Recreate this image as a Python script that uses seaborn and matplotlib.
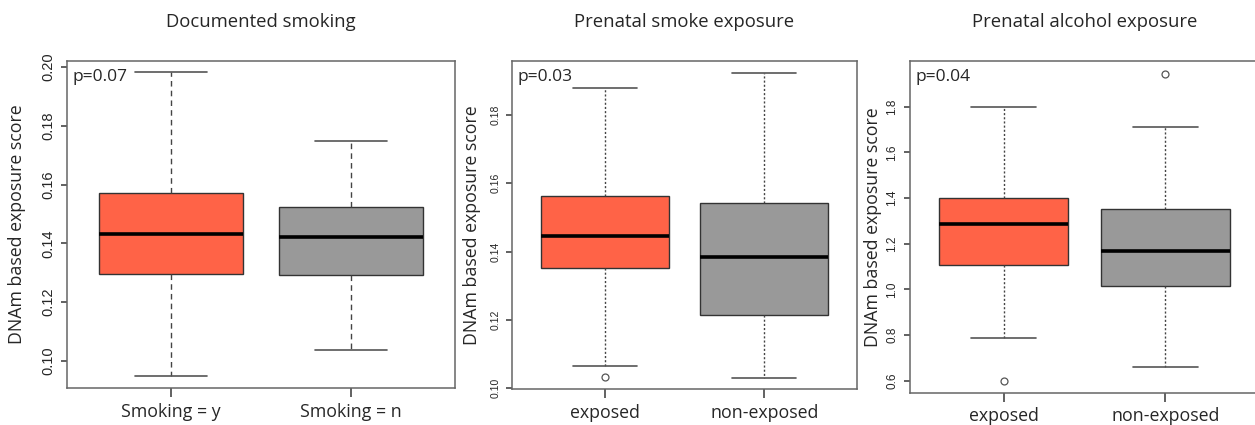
import matplotlib
matplotlib.use("Agg")
import matplotlib.pyplot as plt
import seaborn as sns

# ---- data (box summary: whisker low, Q1, median, Q3, whisker high, outliers)
smoke_groups = ["Smoking = y", "Smoking = n"]
smoke_lo = [0.0948, 0.1038]
smoke_q1 = [0.1297, 0.1293]
smoke_med = [0.1433, 0.1423]
smoke_q3 = [0.1572, 0.1523]
smoke_hi = [0.1982, 0.1750]
smoke_out = [[], []]

pren_groups = ["exposed", "non-exposed"]
pren_lo = [0.1065, 0.1031]
pren_q1 = [0.1353, 0.1216]
pren_med = [0.1446, 0.1385]
pren_q3 = [0.1563, 0.1543]
pren_hi = [0.1880, 0.1924]
pren_out = [[0.1034], []]

alc_groups = ["exposed", "non-exposed"]
alc_lo = [0.788, 0.660]
alc_q1 = [1.108, 1.013]
alc_med = [1.2875, 1.167]
alc_q3 = [1.400, 1.352]
alc_hi = [1.800, 1.712]
alc_out = [[0.600], [1.943]]

titles = ["Documented smoking", "Prenatal smoke exposure", "Prenatal alcohol exposure"]
pvals = ["p=0.07", "p=0.03", "p=0.04"]

sns.set_style("white")
plt.rcParams["font.family"] = ["Open Sans", "DejaVu Sans"]
box_colors = ["#FF6347", "#999999"]

fig = plt.figure(figsize=(12.55, 4.25), dpi=100)


def stats(lo, q1, med, q3, hi, out, names):
    return [dict(whislo=lo[i], q1=q1[i], med=med[i], q3=q3[i], whishi=hi[i],
                 fliers=out[i], label=names[i]) for i in range(len(names))]


def panel(rect, st, ylim, yticks, fmt, tick_fs, wls, title, pval, ylab_x, title_y):
    ax = fig.add_axes(rect)
    bp = ax.bxp(st, positions=[1, 2], widths=0.8, patch_artist=True,
                boxprops=dict(edgecolor="#333333", linewidth=1.0),
                medianprops=dict(color="black", linewidth=2.6),
                whiskerprops=dict(color="#444444", linewidth=1.0, linestyle=wls),
                capprops=dict(color="#555555", linewidth=1.2),
                flierprops=dict(marker="o", markerfacecolor="none",
                                markeredgecolor="#555555", markersize=5, markeredgewidth=0.9),
                capwidths=0.4)
    for patch, c in zip(bp["boxes"], box_colors):
        patch.set_facecolor(c)
    ax.set_xlim(0.42, 2.58)
    ax.set_ylim(*ylim)
    ax.set_yticks(yticks)
    ax.set_yticklabels([fmt % v for v in yticks], rotation=90, va="center",
                       fontsize=tick_fs, family="Liberation Sans")
    ax.set_xticks([1, 2])
    ax.set_xticklabels([s["label"] for s in st], fontsize=12.8)
    ax.tick_params(axis="y", left=True, length=4.5, width=1.3, color="#555555", pad=4)
    ax.tick_params(axis="x", bottom=True, length=6.5, width=1.3, color="#555555", pad=4)
    for sp in ax.spines.values():
        sp.set_color("#666666")
        sp.set_linewidth(1.1)
    ax.text(0.5, title_y, title, transform=ax.transAxes, ha="center", va="center", fontsize=13.3)
    ax.text(0.015, 0.951, pval, transform=ax.transAxes, ha="left", va="center", fontsize=12.5)
    ax.text(ylab_x, 0.5, "DNAm based exposure score", transform=ax.transAxes, rotation=90,
            ha="center", va="center", fontsize=12.8)
    return ax


panel([67 / 1255, 37 / 425, 388 / 1255, 327 / 425],
      stats(smoke_lo, smoke_q1, smoke_med, smoke_q3, smoke_hi, smoke_out, smoke_groups),
      (0.0907, 0.2021), [0.10, 0.12, 0.14, 0.16, 0.18, 0.20], "%.2f", 10.5, (0, (4, 3)),
      titles[0], pvals[0], -0.129, 1.119)

panel([512 / 1255, 36 / 425, 345 / 1255, 328 / 425],
      stats(pren_lo, pren_q1, pren_med, pren_q3, pren_hi, pren_out, pren_groups),
      (0.0998, 0.1958), [0.10, 0.12, 0.14, 0.16, 0.18], "%.2f", 7.5, (0, (1.5, 1.5)),
      titles[1], pvals[1], -0.116, 1.119)

panel([910 / 1255, 32.3 / 425, 349 / 1255, 331.7 / 425],
      stats(alc_lo, alc_q1, alc_med, alc_q3, alc_hi, alc_out, alc_groups),
      (0.547, 2.0), [0.6, 0.8, 1.0, 1.2, 1.4, 1.6, 1.8], "%.1f", 8.5, (0, (1.5, 1.5)),
      titles[2], pvals[2], -0.107, 1.1176)

fig.savefig("out.png", dpi=100)
